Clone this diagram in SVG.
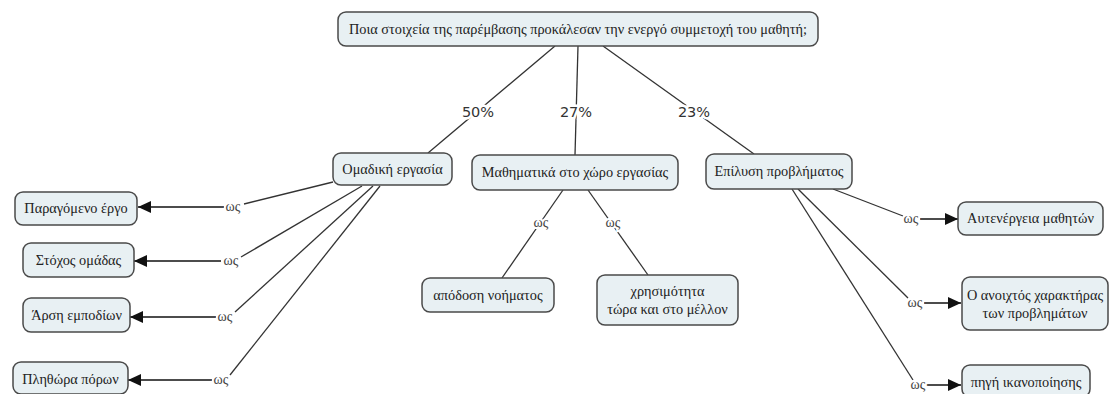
<svg xmlns="http://www.w3.org/2000/svg" width="1110" height="394" viewBox="0 0 1110 394">
<defs>
<marker id="arr" markerWidth="14" markerHeight="12" refX="13" refY="6" orient="auto" markerUnits="userSpaceOnUse">
<path d="M0,0 L13,6 L0,12 z" fill="#111"/>
</marker>
<style>
.box{fill:#e8f0f3;stroke:#4a4a4a;stroke-width:1.5}
.t{font-family:"Liberation Serif","Times New Roman",serif;font-size:14.3px;fill:#222;text-anchor:middle}
.lk{fill:none;stroke:#333;stroke-width:1.3}
.ar{fill:none;stroke:#111;stroke-width:1.6}
.w{font-family:"Liberation Serif","Times New Roman",serif;font-size:14px;fill:#444;text-anchor:middle;paint-order:stroke;stroke:#fff;stroke-width:4px}
.p{font-family:"DejaVu Sans",sans-serif;font-size:14.5px;fill:#333;text-anchor:middle;paint-order:stroke;stroke:#fff;stroke-width:5px}
</style>
</defs>
<rect width="1110" height="394" fill="#fff"/>
<g id="connectors">
<line class="lk" x1="555" y1="46" x2="428" y2="153"/>
<line class="lk" x1="578" y1="46" x2="575" y2="155"/>
<line class="lk" x1="603" y1="46" x2="754" y2="154"/>
<text class="p" x="478" y="117">50%</text>
<text class="p" x="576" y="117">27%</text>
<text class="p" x="694" y="117">23%</text>
<line class="lk" x1="333" y1="182" x2="244" y2="204"/>
<line class="ar" x1="224" y1="207" x2="138" y2="207" marker-end="url(#arr)"/>
<text class="w" x="233" y="211">ως</text>
<line class="lk" x1="362" y1="186" x2="241" y2="257"/>
<line class="ar" x1="221" y1="261" x2="134" y2="261" marker-end="url(#arr)"/>
<text class="w" x="231" y="265">ως</text>
<line class="lk" x1="373" y1="186" x2="235" y2="312"/>
<line class="ar" x1="216" y1="317" x2="130" y2="317" marker-end="url(#arr)"/>
<text class="w" x="225" y="321">ως</text>
<line class="lk" x1="380" y1="186" x2="230" y2="375"/>
<line class="ar" x1="212" y1="380" x2="128" y2="380" marker-end="url(#arr)"/>
<text class="w" x="221" y="384">ως</text>
<line class="lk" x1="563" y1="190" x2="502" y2="278"/>
<text class="w" x="541" y="227">ως</text>
<line class="lk" x1="588" y1="190" x2="648" y2="275"/>
<text class="w" x="613" y="227">ως</text>
<line class="lk" x1="833" y1="189" x2="903" y2="216"/>
<line class="ar" x1="920" y1="219" x2="958" y2="219" marker-end="url(#arr)"/>
<text class="w" x="911" y="223">ως</text>
<line class="lk" x1="798" y1="189" x2="908" y2="298"/>
<line class="ar" x1="924" y1="303" x2="961" y2="303" marker-end="url(#arr)"/>
<text class="w" x="915" y="307">ως</text>
<line class="lk" x1="792" y1="189" x2="913" y2="380"/>
<line class="ar" x1="926" y1="385" x2="961" y2="385" marker-end="url(#arr)"/>
<text class="w" x="918" y="389">ως</text>
</g>
<g id="n-question">
<rect class="box" x="338" y="12" width="480" height="34" rx="8"/>
<text class="t" x="578" y="34">Ποια στοιχεία της παρέμβασης προκάλεσαν την ενεργό συμμετοχή του μαθητή;</text>
</g>
<g id="n-omadiki">
<rect class="box" x="333" y="153" width="119" height="32" rx="8"/>
<text class="t" x="392.5" y="174">Ομαδική εργασία</text>
</g>
<g id="n-mathimatika">
<rect class="box" x="472" y="155" width="206" height="35" rx="8"/>
<text class="t" x="575" y="177">Μαθηματικά στο χώρο εργασίας</text>
</g>
<g id="n-epilysi">
<rect class="box" x="706" y="154" width="146" height="35" rx="8"/>
<text class="t" x="779" y="176">Επίλυση προβλήματος</text>
</g>
<g id="n-paragomeno">
<rect class="box" x="15" y="192" width="122" height="33" rx="8"/>
<text class="t" x="76" y="213">Παραγόμενο έργο</text>
</g>
<g id="n-stoxos">
<rect class="box" x="23" y="243" width="111" height="34" rx="8"/>
<text class="t" x="78.5" y="265">Στόχος ομάδας</text>
</g>
<g id="n-arsi">
<rect class="box" x="23" y="298" width="107" height="34" rx="8"/>
<text class="t" x="76.5" y="320">Άρση εμποδίων</text>
</g>
<g id="n-plithora">
<rect class="box" x="13" y="362" width="115" height="32" rx="8"/>
<text class="t" x="70.5" y="384">Πληθώρα πόρων</text>
</g>
<g id="n-apodosi">
<rect class="box" x="422" y="278" width="132" height="34" rx="8"/>
<text class="t" x="488" y="300">απόδοση νοήματος</text>
</g>
<g id="n-xrisimotita">
<rect class="box" x="597" y="275" width="141" height="50" rx="8"/>
<text class="t" x="667.5" y="296">χρησιμότητα</text>
<text class="t" x="667.5" y="314">τώρα και στο μέλλον</text>
</g>
<g id="n-autenergeia">
<rect class="box" x="958" y="202" width="145" height="33" rx="8"/>
<text class="t" x="1030.5" y="223">Αυτενέργεια μαθητών</text>
</g>
<g id="n-anoixtos">
<rect class="box" x="962" y="277" width="146" height="53" rx="8"/>
<text class="t" x="1035" y="300">Ο ανοιχτός χαρακτήρας</text>
<text class="t" x="1035" y="318">των προβλημάτων</text>
</g>
<g id="n-pigi">
<rect class="box" x="962" y="365" width="128" height="32" rx="8"/>
<text class="t" x="1026" y="387">πηγή ικανοποίησης</text>
</g>
</svg>
